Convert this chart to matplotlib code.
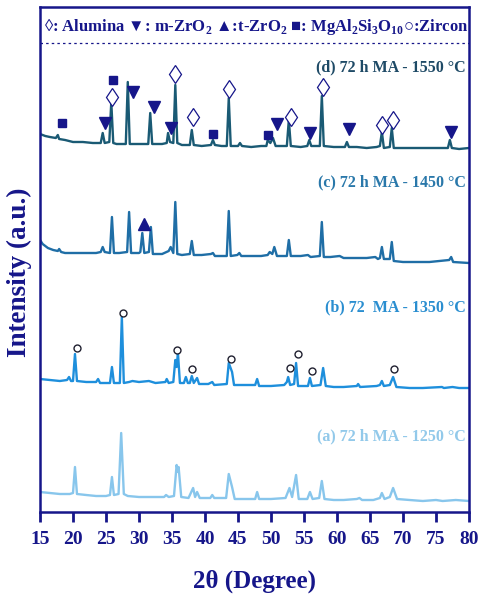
import matplotlib
matplotlib.use('Agg')
import matplotlib.pyplot as plt

# XRD patterns: (2theta, stacked intensity a.u.)
d_theta = [15.0, 15.8, 16.5, 17.4, 17.7, 17.9, 18.8, 20.0, 21.5, 23.0, 24.2, 24.5, 24.8, 25.5, 25.8, 26.1,
           26.6, 28.0, 28.3, 28.6, 30.0, 31.4, 31.7, 32.0, 33.5, 34.2, 34.4, 34.7, 35.2, 35.5, 35.8, 36.5,
           37.7, 38.0, 38.3, 39.5, 40.9, 41.2, 41.5, 42.5, 43.3, 43.6, 43.9, 45.0, 45.3, 45.6, 47.0, 48.5,
           49.3, 49.5, 49.9, 50.3, 50.7, 52.0, 52.4, 52.7, 53.0, 54.5, 55.5, 55.8, 56.1, 57.4, 57.7, 58.0,
           59.5, 61.2, 61.5, 61.8, 63.0, 64.5, 66.0, 66.5, 66.8, 67.1, 68.0, 68.3, 68.6, 70.0, 72.0, 74.0,
           76.8, 77.1, 77.4, 78.5, 80.0]
d_int = [378, 376, 375, 374, 377, 373, 372, 370, 370, 369, 369, 379, 369, 370, 410, 369,
         368, 368, 430, 368, 368, 368, 399, 368, 368, 369, 379, 370, 369, 427, 369, 367,
         367, 382, 367, 366, 367, 372, 367, 366, 366, 414, 366, 366, 369, 366, 365, 366,
         366, 372, 369, 374, 366, 366, 366, 392, 366, 365, 366, 372, 366, 366, 416, 366,
         365, 365, 370, 365, 365, 364, 365, 366, 380, 364, 365, 384, 364, 364, 364, 364,
         364, 372, 364, 363, 364]

c_theta = [15.0, 15.4, 16.2, 17.0, 17.7, 17.9, 18.2, 18.8, 20.0, 22.0, 23.5, 24.2, 24.5, 24.8, 25.6, 25.9,
           26.2, 27.0, 28.2, 28.5, 28.8, 30.0, 30.2, 30.5, 30.8, 31.5, 31.8, 32.1, 33.5, 34.5, 34.8, 35.2,
           35.5, 35.8, 36.5, 37.7, 38.0, 38.3, 39.5, 40.9, 41.2, 41.5, 43.3, 43.6, 43.9, 44.9, 45.2, 45.5,
           47.0, 48.5, 49.5, 49.8, 50.2, 50.5, 50.9, 52.4, 52.7, 53.0, 54.5, 55.6, 56.0, 57.4, 57.7, 58.0,
           59.0, 60.4, 61.0, 63.0, 64.5, 65.8, 66.2, 66.5, 66.8, 67.1, 68.0, 68.3, 68.6, 70.0, 72.0, 74.0,
           77.0, 77.3, 77.6, 80.0]
c_int = [272, 268, 264, 262, 261, 263, 260, 259, 259, 259, 259, 260, 265, 260, 259, 295,
         259, 259, 260, 300, 259, 259, 260, 279, 259, 260, 285, 258, 258, 261, 265, 259,
         310, 258, 257, 258, 271, 257, 257, 258, 259, 256, 256, 301, 256, 257, 259, 256,
         256, 256, 257, 260, 258, 265, 256, 256, 272, 256, 256, 257, 255, 256, 290, 255,
         255, 256, 254, 254, 254, 255, 253, 254, 265, 253, 253, 270, 251, 250, 250, 250,
         252, 255, 250, 249]

b_theta = [15.0, 16.5, 18.0, 19.1, 19.4, 19.7, 20.0, 20.3, 20.6, 22.0, 23.5, 23.8, 24.1, 25.6, 25.9, 26.2,
           27.1, 27.4, 27.7, 28.5, 29.0, 30.0, 31.5, 32.5, 34.0, 34.2, 34.5, 35.2, 35.5, 35.7, 35.9, 36.2,
           36.8, 37.1, 37.4, 37.7, 38.0, 38.3, 38.8, 39.1, 40.5, 41.1, 41.4, 43.3, 43.6, 44.1, 44.4, 46.0,
           47.6, 47.9, 48.2, 50.0, 52.0, 52.4, 52.6, 52.9, 53.5, 53.8, 54.1, 55.6, 55.9, 56.2, 57.5, 57.9,
           58.3, 59.5, 61.0, 63.0, 63.2, 63.5, 66.0, 66.5, 66.8, 67.1, 68.0, 68.5, 69.0, 71.0, 73.0, 75.9,
           76.2, 77.5, 78.5, 80.0]
b_int = [133, 132, 131, 132, 135, 131, 131, 158, 131, 130, 130, 133, 129, 129, 145, 129,
         129, 195, 129, 130, 131, 130, 131, 129, 130, 133, 129, 130, 152, 145, 159, 129,
         129, 135, 129, 129, 136, 129, 134, 128, 128, 130, 127, 128, 149, 140, 127, 127,
         127, 133, 126, 126, 127, 130, 135, 127, 128, 149, 126, 126, 134, 126, 127, 144,
         126, 125, 125, 126, 128, 125, 126, 127, 131, 126, 127, 135, 125, 124, 124, 125,
         124, 125, 124, 124]

a_theta = [15.0, 16.5, 18.0, 19.5, 20.0, 20.3, 20.6, 22.0, 23.5, 25.0, 25.6, 25.9, 26.2, 26.9, 27.3, 27.7,
           28.3, 30.0, 32.0, 33.8, 34.1, 34.5, 35.3, 35.7, 35.9, 36.0, 36.4, 37.5, 38.2, 38.5, 38.8, 39.2,
           40.8, 41.1, 41.4, 43.2, 43.6, 44.1, 44.5, 46.0, 47.6, 47.9, 48.2, 50.0, 52.2, 52.8, 53.2, 53.8,
           54.2, 55.5, 55.9, 56.3, 57.3, 57.7, 58.1, 59.5, 61.0, 63.0, 63.4, 63.8, 65.5, 66.5, 66.8, 67.2,
           68.0, 68.5, 69.1, 71.0, 73.0, 75.0, 76.0, 78.0, 80.0]
a_int = [20, 19, 18, 18, 19, 45, 18, 17, 16, 16, 17, 35, 17, 18, 79, 18,
         16, 15, 15, 15, 17, 15, 16, 47, 40, 45, 15, 14, 24, 15, 20, 14,
         14, 17, 14, 14, 38, 25, 13, 13, 13, 20, 13, 13, 14, 24, 15, 37,
         13, 13, 20, 13, 14, 31, 13, 12, 12, 13, 14, 12, 12, 14, 19, 13,
         15, 24, 13, 12, 11, 12, 11, 12, 11]

# phase markers
alumina_x = [25.9, 35.5, 38.2, 43.6, 53.0, 57.9, 66.8, 68.5]
alumina_y = [415, 438, 395, 423, 395, 425, 387, 392]
mzro2_x = [24.8, 29.1, 32.3, 34.8, 50.9, 55.9, 61.8, 77.3]
mzro2_y = [389, 420, 405, 384, 388, 379, 383, 380]
mgal_x = [18.3, 26.1, 41.2, 49.5]
mgal_y = [389, 432, 378, 377]
tzro2_x = [30.8]
tzro2_y = [288]
zircon_x = [20.6, 27.6, 35.8, 38.0, 43.9, 52.9, 54.1, 56.2, 68.7]
zircon_y = [164, 199, 162, 143, 153, 144, 158, 141, 143]

labels = ['(d) 72 h MA - 1550 °C', '(c) 72 h MA - 1450 °C', '(b) 72  MA - 1350 °C', '(a) 72 h MA - 1250 °C']
label_y = [445, 330, 205, 76]
colors = ['#1a5a74', '#1f6ea6', '#1e8fdc', '#88c6ec']
text_colors = ['#1e4a66', '#2a78aa', '#2a8ed0', '#92c9ea']

navy = '#16168a'
plt.rcParams['font.family'] = ['Liberation Serif', 'DejaVu Serif']
plt.rcParams['font.weight'] = 'bold'
plt.rcParams['mathtext.fontset'] = 'custom'
plt.rcParams['mathtext.rm'] = 'Liberation Serif:bold'
plt.rcParams['mathtext.bf'] = 'Liberation Serif:bold'

fig = plt.figure(figsize=(4.79, 5.94), dpi=100)
ax = fig.add_axes([40 / 479, 1 - 512 / 594, 429 / 479, 505 / 594])

for th, it, col in zip([d_theta, c_theta, b_theta, a_theta], [d_int, c_int, b_int, a_int], colors):
    ax.plot(th, it, color=col, lw=1.7)

ax.plot(alumina_x, alumina_y, 'd', ms=9.5, mfc='white', mec=navy, mew=0.9)
ax.plot(mzro2_x, mzro2_y, 'v', ms=8, color=navy)
ax.plot(mgal_x, mgal_y, 's', ms=5.5, color=navy)
ax.plot(tzro2_x, tzro2_y, '^', ms=8, color=navy)
ax.plot(zircon_x, zircon_y, 'o', ms=5, mfc='white', mec='#202030', mew=1.0)

for lab, ly, tc in zip(labels, label_y, text_colors):
    ax.text(79.5, ly, lab, color=tc, fontsize=11.5, fontweight='bold', ha='right', va='center')

ax.text(15.6, 485, r'◊: Alumina ▼: m-ZrO$_2$ ▲:t-ZrO$_2$ ■: MgAl$_2$Si$_3$O$_{10}$○:Zircon',
        color=navy, fontsize=12, fontweight='bold', ha='left', va='center')
ax.axhline(469, color=navy, lw=0.9, ls=(0, (2, 2.5)))

ax.set_xlim(15, 80)
ax.set_ylim(0, 505)
ax.set_xticks(range(15, 81, 5))
ax.set_yticks([])
ax.tick_params(axis='x', direction='out', length=7, width=2, colors=navy, labelsize=14, pad=7)
for lbl in ax.get_xticklabels():
    lbl.set_fontweight('bold')
for sp in ax.spines.values():
    sp.set_color(navy)
    sp.set_linewidth(1.8)

ax.set_xlabel('2θ (Degree)', fontsize=18, fontweight='bold', color=navy, labelpad=15)
ax.set_ylabel('Intensity (a.u.)', fontsize=19.5, fontweight='bold', color=navy)
ax.yaxis.set_label_coords(-0.018, 0.475)

fig.savefig('out.png', dpi=100)
